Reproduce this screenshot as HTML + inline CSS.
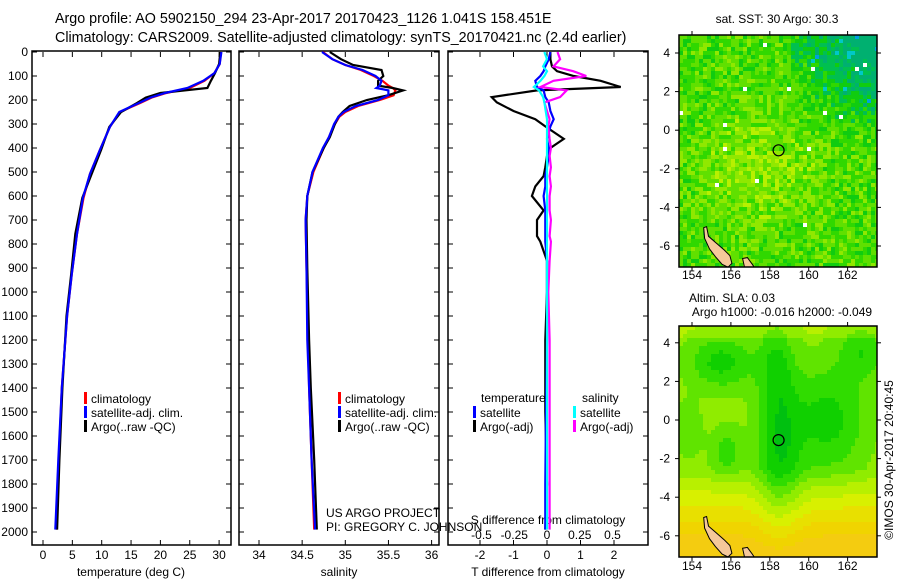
<!DOCTYPE html>
<html><head><meta charset="utf-8">
<style>
html,body{margin:0;padding:0;background:#fff;}
svg{display:block;font-family:"Liberation Sans",sans-serif;}
text{fill:#000;}
</style></head>
<body>
<svg id="fig" width="900" height="580" viewBox="0 0 900 580" xmlns="http://www.w3.org/2000/svg">
<text x="55" y="23" font-size="14.3">Argo profile: AO 5902150_294 23-Apr-2017 20170423_1126 1.041S 158.451E</text>
<text x="55" y="42" font-size="14.3">Climatology: CARS2009. Satellite-adjusted climatology: synTS_20170421.nc (2.4d earlier)</text>
<g id="p1"></g>
<g id="p2"></g>
<g id="p3"></g>
<g id="m1"></g>
<g id="m2"></g>
<text x="777" y="23" font-size="12" text-anchor="middle">sat. SST: 30 Argo: 30.3</text>
<text x="732" y="302" font-size="12" text-anchor="middle">Altim. SLA: 0.03</text>
<text x="782" y="316" font-size="12" text-anchor="middle">Argo h1000: -0.016 h2000: -0.049</text>
<text x="0" y="0" font-size="12" text-anchor="middle" transform="translate(893,460) rotate(-90)">©IMOS 30-Apr-2017 20:40:45</text>
</svg>
<script>
// ---- profile data ----
const depthT = [0,50,88,120,150,171,190,213,250,312,408,508,608,758,925,1100,1400,1700,1990];
const tempClim = [30.3,30.1,29.2,27.5,25,21,18.5,16.5,13.1,11.4,9.7,8.0,6.9,5.8,4.9,4.1,3.2,2.7,2.3];
const tempSat = [30.4,30.1,29.2,27.3,24.6,20.8,18.3,16.3,13.0,11.4,9.7,8.0,6.8,5.8,4.9,4.1,3.2,2.6,2.1];
const tempArgo = [30.2,30.0,29.3,28.6,28.0,20.0,17.5,16.0,13.3,11.3,9.9,8.3,6.7,5.5,4.8,4.0,3.3,2.8,2.4];
const depthS = [0,30,54,75,100,120,140,150,160,180,200,225,250,270,300,355,400,500,600,700,900,1200,1400,1700,1990];
const salClim = [34.74,34.85,35.0,35.18,35.33,35.43,35.5,35.55,35.58,35.56,35.4,35.15,35.0,34.93,34.88,34.81,34.75,34.63,34.56,34.54,34.55,34.57,34.58,34.61,34.64];
const salSat = [34.73,34.85,35.0,35.2,35.35,35.42,35.4,35.36,35.5,35.5,35.38,35.12,34.98,34.92,34.87,34.81,34.74,34.62,34.56,34.54,34.55,34.56,34.58,34.61,34.65];
const salArgo = [34.82,34.95,35.09,35.42,35.44,35.38,35.38,35.55,35.67,35.5,35.25,35.05,34.97,34.92,34.88,34.82,34.75,34.62,34.56,34.55,34.56,34.58,34.6,34.64,34.67];
const depthD = [0,30,60,80,100,120,146,160,188,210,246,280,310,362,400,433,480,517,560,600,660,700,767,790,870,1000,1200,1500,1800,1990];
const tDiffArgo = [0.1,0.1,0.15,0.3,0.8,1.6,2.2,-0.3,-1.65,-1.5,-1.0,-0.35,-0.05,0.5,0.1,0.0,-0.05,-0.1,-0.35,-0.45,-0.1,-0.3,-0.3,-0.2,0.0,0.0,-0.05,-0.05,0.0,-0.05];
const tDiffSat = [0.1,0.05,-0.05,-0.1,-0.2,-0.35,-0.3,-0.1,-0.05,0.05,0.1,0.2,0.1,0.0,0.05,0.05,0.0,-0.05,-0.05,-0.1,-0.05,-0.05,-0.05,-0.05,0,0,0,-0.03,-0.05,-0.05];
const sDiffArgo = [0.08,0.1,0.05,0.2,0.3,0.05,-0.05,0.15,0.1,-0.02,0.0,0.02,0.01,0.02,0.03,0.02,0.03,0.02,0.03,0.02,0.02,0.03,0.02,0.03,0.02,0.01,0.02,0.02,0.02,0.02];
const sDiffSat = [-0.02,0.0,-0.03,0.0,-0.02,-0.05,-0.1,-0.06,-0.03,-0.02,-0.01,0,0,0,0,0,0,0,0,0,0,0,0,0,0,0,0,0,0,0];
const depthTicks = [0,100,200,300,400,500,600,700,800,900,1000,1100,1200,1300,1400,1500,1600,1700,1800,1900,2000];
const tempTicks = [0,5,10,15,20,25,30];
const salTicks = [34,34.5,35,35.5,36];
const tdTicks = [-2,-1,0,1,2];
const sdTicks = [-0.5,-0.25,0,0.25,0.5];

const NS='http://www.w3.org/2000/svg';
function mk(tag,attrs,parent){const e=document.createElementNS(NS,tag);for(const k in attrs)e.setAttribute(k,attrs[k]);parent.appendChild(e);return e;}
const yD = d => 52 + d*0.24;
const TOP=52, BOT=545;

function frame(g,x0,x1){
  const r=mk('rect',{x:x0,y:TOP-1,width:x1-x0,height:BOT-TOP+1,fill:'none',stroke:'#000','stroke-width':1.5},g);
  
  
}
function yTicks(g,x0,x1,labels){
  depthTicks.forEach(d=>{
    mk('line',{x1:x0,x2:x0+5,y1:yD(d),y2:yD(d),stroke:'#000'},g);
    mk('line',{x1:x1-5,x2:x1,y1:yD(d),y2:yD(d),stroke:'#000'},g);
    if(labels){const t=mk('text',{x:x0-4,y:yD(d)+4,'font-size':12,'text-anchor':'end'},g);t.textContent=d;
      
      }
  });
}
function xTicks(g,ticks,xf,y,fmt){
  ticks.forEach(v=>{
    const x=xf(v);
    mk('line',{x1:x,x2:x,y1:BOT,y2:BOT-5,stroke:'#000'},g);
    mk('line',{x1:x,x2:x,y1:TOP,y2:TOP+5,stroke:'#000'},g);
    const t=mk('text',{x:x,y:y,'font-size':12,'text-anchor':'middle'},g);t.textContent=fmt?fmt(v):v;
    
    
  });
}
function line(g,xs,ds,xf,col,name){
  const pts=xs.map((v,i)=>xf(v).toFixed(1)+','+yD(ds[i]).toFixed(1)).join(' ');
  const p=mk('polyline',{points:pts,fill:'none',stroke:col,'stroke-width':2.2,'stroke-linejoin':'miter'},g);
  
  
}
function legend(g,x,y,col,label){
  const r=mk('rect',{x:x,y:y-7,width:3,height:12,fill:col},g);
  
  
  const t=mk('text',{x:x+7,y:y+4,'font-size':12},g);t.textContent=label;
  
  
}
function title(g,x,y,s,name){const t=mk('text',{x:x,y:y,'font-size':12,'text-anchor':'middle'},g);t.textContent=s;
  
  }

// panel 1
const g1=document.getElementById('p1');
const xT=v=>43+v*5.87;
frame(g1,32,231);yTicks(g1,32,231,true);
xTicks(g1,tempTicks,xT,559);
line(g1,tempClim,depthT,xT,'#f00','temp-climatology-line');
line(g1,tempArgo,depthT,xT,'#000','temp-argo-line');
line(g1,tempSat,depthT,xT,'#00f','temp-satellite-line');
legend(g1,84,399,'#f00','climatology');legend(g1,84,413,'#00f','satellite-adj. clim.');legend(g1,84,427,'#000','Argo(..raw -QC)');
title(g1,131,576,'temperature (deg C)','x-axis-title-temperature');

// panel 2
const g2=document.getElementById('p2');
const xS=v=>259+(v-34)*86.3;
frame(g2,239,439);yTicks(g2,239,439,false);
xTicks(g2,salTicks,xS,559);
line(g2,salClim,depthS,xS,'#f00','sal-climatology-line');
line(g2,salArgo,depthS,xS,'#000','sal-argo-line');
line(g2,salSat,depthS,xS,'#00f','sal-satellite-line');
legend(g2,338,399,'#f00','climatology');legend(g2,338,413,'#00f','satellite-adj. clim.');legend(g2,338,427,'#000','Argo(..raw -QC)');
title(g2,339,576,'salinity','x-axis-title-salinity');
{const t=mk('text',{x:326,y:517,'font-size':12},g2);t.textContent='US ARGO PROJECT';
 const t2=mk('text',{x:326,y:531,'font-size':12},g2);t2.textContent='PI: GREGORY C. JOHNSON';}

// panel 3
const g3=document.getElementById('p3');
const xTD=v=>547+v*33.5, xSD=v=>547+v*131;
frame(g3,448,648);yTicks(g3,448,648,false);
xTicks(g3,tdTicks,xTD,559);
sdTicks.forEach(v=>{const t=mk('text',{x:xSD(v),y:539,'font-size':12,'text-anchor':'middle'},g3);t.textContent=v;
  
  });
title(g3,548,524,'S difference from climatology','s-diff-axis-title');
line(g3,tDiffArgo,depthD,xTD,'#000','t-diff-argo-line');
line(g3,tDiffSat,depthD,xTD,'#00f','t-diff-satellite-line');
line(g3,sDiffArgo,depthD,xSD,'#f0f','s-diff-argo-line');
line(g3,sDiffSat,depthD,xSD,'#0ff','s-diff-satellite-line');
{const t=mk('text',{x:481,y:402,'font-size':12},g3);t.textContent='temperature';
 const t2=mk('text',{x:582,y:402,'font-size':12},g3);t2.textContent='salinity';}
legend(g3,473,413,'#00f','satellite');legend(g3,473,427,'#000','Argo(-adj)');
legend(g3,573,413,'#0ff','satellite');legend(g3,573,427,'#f0f','Argo(-adj)');
title(g3,548,576,'T difference from climatology','x-axis-title-tdiff');

// ---- maps ----
const lonTicks=[154,156,158,160,162];
const latTicks=[4,2,0,-2,-4,-6];
const argoPos=[158.451,-1.041];
function hash(i,j,s){let h=(i*374761393+j*668265263+s*982451653)|0;h=(h^(h>>>13))*1274126177|0;h=h^(h>>>16);return (h>>>0)/4294967296;}
const land1=[[154.6,-5.05],[154.75,-5.0],[154.85,-5.5],[155.25,-5.85],[155.65,-6.2],[155.95,-6.5],[156.05,-6.9],[155.85,-7.1],[155.55,-6.95],[155.2,-6.55],[154.9,-6.15],[154.65,-5.6]];
const land2=[[156.6,-6.65],[156.85,-6.6],[157.1,-6.95],[157.2,-7.1],[156.7,-7.1]];
function drawMap(g,x0,x1,y0,y1,lat0px,sfn,lonLabY){
  const lonX=l=>692+(l-154)*19.45, latY=l=>lat0px-l*19.3;
  const clip='c'+g.id;
  const cp=mk('clipPath',{id:clip},g);mk('rect',{x:x0,y:y0,width:x1-x0,height:y1-y0},cp);
  const cg=mk('g',{'clip-path':'url(#'+clip+')'},g);
  const cs=4;
  for(let y=y0,j=0;y<y1;y+=cs,j++)for(let x=x0,i=0;x<x1;x+=cs,i++){
    const lon=154+(x+2-692)/19.45, lat=(lat0px-(y+2))/19.3;
    const c=sfn(lon,lat,i,j);
    mk('rect',{x:x,y:y,width:cs,height:cs,fill:c},cg);
  }
  [land1,land2].forEach(L=>{
    const pts=L.map(p=>lonX(p[0]).toFixed(1)+','+latY(p[1]).toFixed(1)).join(' ');
    const p=mk('polygon',{points:pts,fill:'#f5c89a',stroke:'#000','stroke-width':1},cg);
    
    
  });
  const c=mk('circle',{cx:lonX(argoPos[0]),cy:latY(argoPos[1]),r:5.5,fill:'none',stroke:'#000','stroke-width':1.2},g);
  
  
  const f=mk('rect',{x:x0,y:y0,width:x1-x0,height:y1-y0,fill:'none',stroke:'#000','stroke-width':1.5},g);
  
  
  lonTicks.forEach(l=>{const x=lonX(l);mk('line',{x1:x,x2:x,y1:y0,y2:y0-4,stroke:'#000'},g);mk('line',{x1:x,x2:x,y1:y1,y2:y1+4,stroke:'#000'},g);
    const t=mk('text',{x:x,y:lonLabY,'font-size':12,'text-anchor':'middle'},g);t.textContent=l;
    
    });
  latTicks.forEach(l=>{const y=latY(l);mk('line',{x1:x0,x2:x0-4,y1:y,y2:y,stroke:'#000'},g);mk('line',{x1:x1,x2:x1+4,y1:y,y2:y,stroke:'#000'},g);
    const t=mk('text',{x:x0-9,y:y+4,'font-size':12,'text-anchor':'end'},g);t.textContent=l;
    
    });
}
// SST map
const sstPal=['#00b070','#00c050','#10cc10','#30d800','#60e000','#90e800','#b8f000','#d8f000'];
drawMap(document.getElementById('m1'),679,877,35,267,53+4*19.3,(lon,lat,i,j)=>{
  const r=hash(i,j,1);
  let v=3.4+1.6*Math.exp(-((lon-157.5)**2/10+(lat+2)**2/8))+(r-0.5)*3.0;
  const ne=Math.max(0,(lon-158.5)/4)*Math.max(0,(lat+0.5)/4);
  v-=ne*3.5;
  if(hash(i,j,3)<0.005&&lat>-5)return '#fff';
  if(ne>0.35&&hash(i,j,2)<0.05)return hash(i,j,4)<0.5?'#00a0e0':'#00c8c8';
  const k=Math.max(0,Math.min(7,Math.round(v)));
  return sstPal[k];
},279);
// SLA map
const slaPal=['#00c010','#10d000','#30dc00','#60e400','#90ec00','#b8f000','#d8f000','#e8e000','#f0d400','#f4cc10'];
const blobs=[[155.5,3,-1.8,1.2,1],[158.5,-1.5,-2.0,0.8,3.2],[161,0,-1.8,1.4,2],[162.8,3.5,-1.4,0.9,1],[155.8,-1.7,-1.2,0.6,1],[153.8,-0.5,-0.9,0.5,1],[158.3,3,-1,0.6,1.5]];
drawMap(document.getElementById('m2'),679,877,326,557,420,(lon,lat)=>{
  let v=4;
  blobs.forEach(b=>{v+=b[2]*1.6*Math.exp(-((lon-b[0])**2/(2*b[3]*b[3])+(lat-b[1])**2/(2*b[4]*b[4])));});
  if(lat<-2.5)v+=(-2.5-lat)*1.3;
  if(lat>4.3)v+=0.8;
  const k=Math.max(0,Math.min(9,Math.round(v)));
  return slaPal[k];
},570);
</script>
</body></html>
